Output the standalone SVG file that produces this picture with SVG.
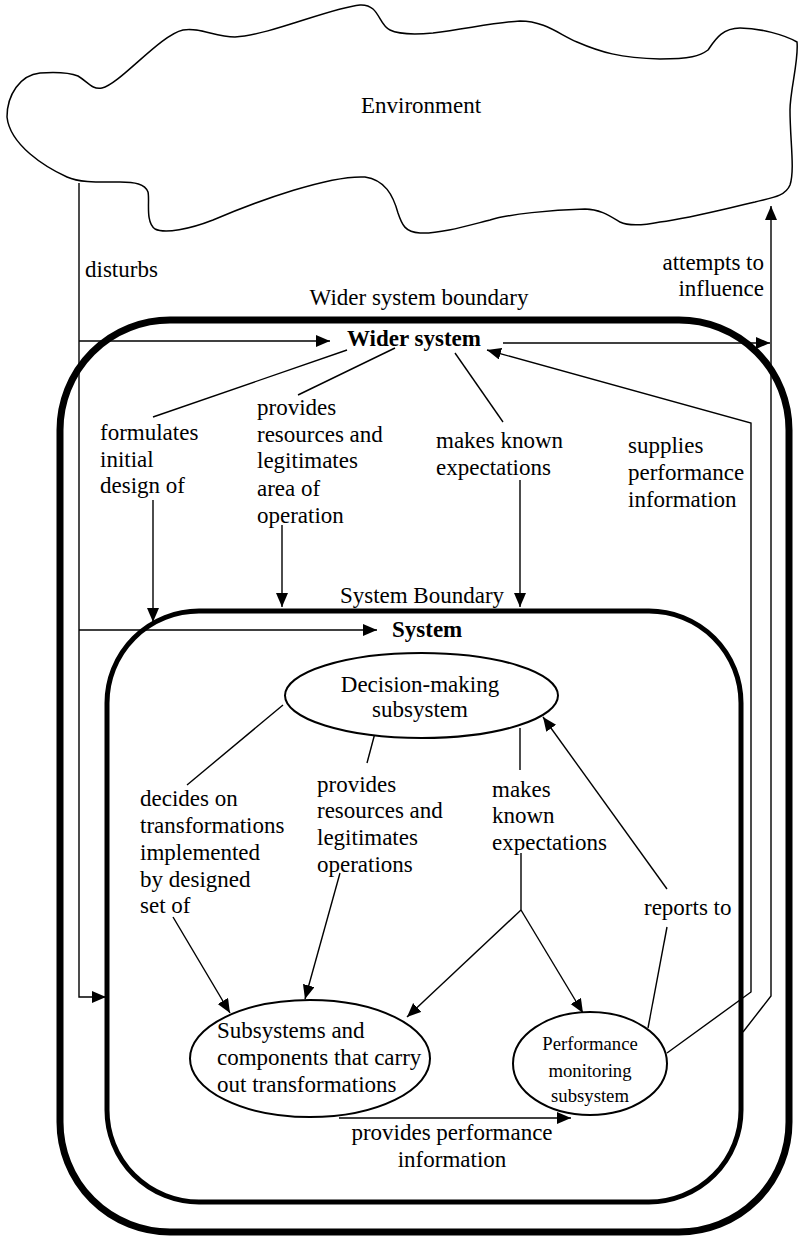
<svg xmlns="http://www.w3.org/2000/svg" width="799" height="1237" viewBox="0 0 799 1237">
<style>
text{font-family:"Liberation Serif","Times New Roman",serif;font-size:23px;fill:#000}
.b{font-weight:bold}
.m{text-anchor:middle}
.e{text-anchor:end}
.sm{font-size:18.7px}
.ln{fill:none;stroke:#000;stroke-width:1.4}
.arr{fill:none;stroke:#000;stroke-width:1.4;marker-end:url(#ah)}
.ell{fill:#fff;stroke:#000;stroke-width:2}
</style>
<defs>
<marker id="ah" markerUnits="userSpaceOnUse" markerWidth="15" markerHeight="13" refX="14" refY="6" orient="auto">
<path d="M0,0 L14,6 L0,12 Z" fill="#000"/>
</marker>
</defs>
<rect width="799" height="1237" fill="#fff"/>

<g id="environment">
<path fill="none" stroke="#000" stroke-width="1.5" d="M 7,117 C 7,95 20,75 40,73 C 55,72 68,72 78,76 C 88,82 92,90 102,88 C 120,84 160,35 183,30 C 200,27 215,37 235,37 C 270,35 330,8 360,5 C 380,4 378,25 390,30 C 398,34 410,35 433,33 C 470,28 500,22 520,21 C 545,21 560,35 577,42 C 600,52 620,58 660,59 C 690,59 700,56 708,50 C 715,40 722,28 740,28 C 760,28 785,35 797,42 C 799,60 790,90 790,110 C 790,140 795,170 790,185 C 785,197 770,198 755,202 C 720,210 690,218 660,222 C 640,226 628,226 620,222 C 610,216 600,209 585,209 C 550,210 510,214 490,220 C 470,225 440,234 420,233 C 405,232 402,225 398,213 C 393,195 385,180 365,177 C 330,175 260,200 213,220 C 190,229 165,234 155,229 C 145,222 150,200 148,192 C 145,184 135,182 120,182 C 100,182 80,183 67,177 C 45,167 10,145 7,117 Z"/>
<text class="m" x="421" y="113">Environment</text>
</g>

<g id="wider-system">
<rect x="60" y="320" width="729" height="912" rx="110" ry="110" fill="none" stroke="#000" stroke-width="7"/>
<text class="m" x="419" y="305">Wider system boundary</text>
<text class="b" x="347" y="346">Wider system</text>
</g>

<g id="system">
<rect x="107" y="611" width="634" height="591" rx="92" ry="92" fill="none" stroke="#000" stroke-width="5"/>
<text class="m" x="422" y="603">System Boundary</text>
<text class="b" x="392" y="637">System</text>
</g>

<g id="connectors">
<!-- disturbs -->
<polyline class="arr" points="79,183 79,997 106,997"/>
<line class="arr" x1="79" y1="341" x2="330" y2="341"/>
<line class="arr" x1="79" y1="630" x2="377" y2="630"/>
<!-- wider system to attempts to influence -->
<line class="arr" x1="503" y1="343" x2="770" y2="343"/>
<polyline class="arr" points="743,1032 771,996 771,206"/>
<!-- supplies performance information -->
<polyline class="arr" points="667,1053 751,992 751,423 487,350"/>
<!-- wider system label lines -->
<line class="ln" x1="347" y1="350" x2="153" y2="417"/>
<line class="ln" x1="395" y1="348" x2="298" y2="395"/>
<line class="ln" x1="455" y1="353" x2="503" y2="422"/>
<line class="arr" x1="153" y1="500" x2="153" y2="622"/>
<line class="arr" x1="282" y1="525" x2="282" y2="607"/>
<line class="arr" x1="520" y1="480" x2="520" y2="607"/>
<!-- decision-making lines -->
<line class="ln" x1="283" y1="705" x2="187" y2="785"/>
<line class="arr" x1="173" y1="917" x2="230" y2="1013"/>
<line class="ln" x1="375" y1="733" x2="367" y2="763"/>
<line class="arr" x1="340" y1="873" x2="305" y2="999"/>
<line class="ln" x1="520" y1="728" x2="520" y2="770"/>
<line class="ln" x1="521" y1="853" x2="521" y2="910"/>
<line class="arr" x1="521" y1="910" x2="407" y2="1017"/>
<line class="arr" x1="521" y1="910" x2="583" y2="1013"/>
<!-- reports to -->
<line class="ln" x1="648" y1="1028" x2="667" y2="927"/>
<line class="arr" x1="667" y1="889" x2="543" y2="717"/>
<!-- provides performance information -->
<line class="arr" x1="339" y1="1118" x2="571" y2="1118"/>
</g>

<g id="decision-making">
<ellipse class="ell" cx="421.5" cy="695.5" rx="136.5" ry="42.5"/>
<text class="m" x="420" y="692">Decision-making</text>
<text class="m" x="420" y="717">subsystem</text>
</g>

<g id="subsystems">
<ellipse class="ell" cx="310" cy="1058.5" rx="120" ry="58.5"/>
<text x="217" y="1038">Subsystems and</text>
<text x="217" y="1065">components that carry</text>
<text x="217" y="1092">out transformations</text>
</g>

<g id="performance-monitoring">
<ellipse class="ell" cx="590" cy="1063.5" rx="77" ry="51.5"/>
<text class="m sm" x="590" y="1050">Performance</text>
<text class="m sm" x="590" y="1077">monitoring</text>
<text class="m sm" x="590" y="1102">subsystem</text>
</g>

<g id="labels">
<text x="85" y="277">disturbs</text>
<text class="e" x="764" y="270">attempts to</text>
<text class="e" x="764" y="296">influence</text>
<text x="100" y="440">formulates</text>
<text x="100" y="467">initial</text>
<text x="100" y="493">design of</text>
<text x="257" y="415">provides</text>
<text x="257" y="442">resources and</text>
<text x="257" y="468">legitimates</text>
<text x="257" y="496">area of</text>
<text x="257" y="523">operation</text>
<text x="436" y="448">makes known</text>
<text x="436" y="475">expectations</text>
<text x="628" y="453">supplies</text>
<text x="628" y="480">performance</text>
<text x="628" y="507">information</text>
<text x="140" y="806">decides on</text>
<text x="140" y="833">transformations</text>
<text x="140" y="860">implemented</text>
<text x="140" y="887">by designed</text>
<text x="140" y="913">set of</text>
<text x="317" y="792">provides</text>
<text x="317" y="818">resources and</text>
<text x="317" y="845">legitimates</text>
<text x="317" y="872">operations</text>
<text x="492" y="797">makes</text>
<text x="492" y="823">known</text>
<text x="492" y="850">expectations</text>
<text x="644" y="915">reports to</text>
<text class="m" x="452" y="1140">provides performance</text>
<text class="m" x="452" y="1167">information</text>
</g>
</svg>
